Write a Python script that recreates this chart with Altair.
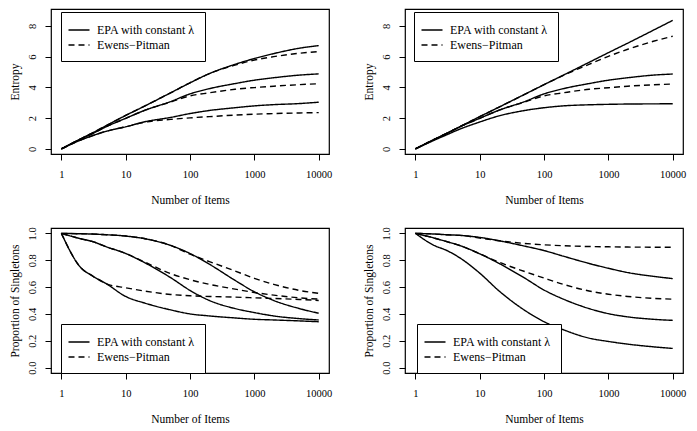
import pandas as pd
import altair as alt

# number of items (x) shared by all curves
items = [1, 2, 3, 5, 10, 20, 50, 100, 200, 500, 1000, 2000, 5000, 10000]
methods = ["EPA with constant λ", "Ewens\u2212Pitman"]

# top-left: entropy
tl_epa_hi = [0, 0.66, 1.03, 1.52, 2.18, 2.8, 3.65, 4.3, 4.9, 5.5, 5.88, 6.2, 6.55, 6.72]
tl_ep_hi = [0, 0.66, 1.03, 1.52, 2.18, 2.8, 3.65, 4.3, 4.9, 5.45, 5.78, 6.0, 6.22, 6.33]
tl_epa_mid = [0, 0.64, 0.98, 1.45, 1.99, 2.52, 3.08, 3.58, 3.92, 4.25, 4.47, 4.63, 4.8, 4.88]
tl_ep_mid = [0, 0.64, 0.98, 1.45, 1.99, 2.52, 3.05, 3.45, 3.65, 3.88, 3.99, 4.08, 4.18, 4.24]
tl_epa_lo = [0, 0.58, 0.85, 1.15, 1.44, 1.77, 2.05, 2.3, 2.5, 2.68, 2.8, 2.88, 2.95, 3.04]
tl_ep_lo = [0, 0.58, 0.85, 1.15, 1.44, 1.74, 1.92, 2.02, 2.1, 2.2, 2.26, 2.3, 2.34, 2.36]

# top-right: entropy
tr_epa_hi = [0, 0.63, 1.0, 1.46, 2.1, 2.72, 3.55, 4.18, 4.8, 5.63, 6.26, 6.88, 7.72, 8.36]
tr_ep_hi = [0, 0.63, 1.0, 1.46, 2.1, 2.72, 3.55, 4.18, 4.78, 5.5, 6.02, 6.48, 7.0, 7.33]
tr_epa_mid = [0, 0.64, 0.98, 1.45, 1.99, 2.52, 3.08, 3.58, 3.92, 4.25, 4.47, 4.63, 4.8, 4.87]
tr_ep_mid = [0, 0.64, 0.98, 1.45, 1.99, 2.52, 3.05, 3.45, 3.65, 3.88, 3.98, 4.08, 4.17, 4.22]
tr_epa_lo = [0, 0.58, 0.9, 1.3, 1.75, 2.15, 2.5, 2.68, 2.8, 2.87, 2.9, 2.92, 2.93, 2.94]

# bottom-left: proportion of singletons
bl_epa_hi = [1.0, 0.997, 0.995, 0.99, 0.98, 0.96, 0.91, 0.85, 0.77, 0.65, 0.565, 0.5, 0.44, 0.405]
bl_ep_hi = [1.0, 0.997, 0.995, 0.99, 0.98, 0.96, 0.91, 0.845, 0.79, 0.72, 0.665, 0.62, 0.575, 0.553]
bl_epa_mid = [1.0, 0.96, 0.94, 0.9, 0.85, 0.78, 0.67, 0.575, 0.5, 0.44, 0.41, 0.385, 0.365, 0.355]
bl_ep_mid = [1.0, 0.96, 0.94, 0.9, 0.85, 0.785, 0.7, 0.655, 0.62, 0.585, 0.56, 0.54, 0.52, 0.51]
bl_epa_lo = [1.0, 0.745, 0.685, 0.625, 0.53, 0.48, 0.43, 0.40, 0.385, 0.37, 0.36, 0.355, 0.348, 0.342]
bl_ep_lo = [1.0, 0.745, 0.685, 0.625, 0.595, 0.57, 0.545, 0.535, 0.53, 0.525, 0.52, 0.515, 0.508, 0.50]

# bottom-right: proportion of singletons
br_epa_hi = [1.0, 0.995, 0.99, 0.985, 0.97, 0.945, 0.905, 0.872, 0.83, 0.776, 0.74, 0.708, 0.68, 0.663]
br_ep_hi = [1.0, 0.995, 0.99, 0.985, 0.965, 0.945, 0.925, 0.915, 0.908, 0.902, 0.9, 0.898, 0.897, 0.896]
br_epa_mid = [1.0, 0.964, 0.94, 0.908, 0.848, 0.776, 0.667, 0.578, 0.51, 0.44, 0.402, 0.378, 0.36, 0.352]
br_ep_mid = [1.0, 0.964, 0.94, 0.908, 0.848, 0.785, 0.716, 0.667, 0.62, 0.571, 0.547, 0.53, 0.516, 0.51]
br_epa_lo = [1.0, 0.908, 0.875, 0.815, 0.704, 0.571, 0.427, 0.342, 0.282, 0.22, 0.195, 0.175, 0.155, 0.143]

series = {
    "tl": [(tl_epa_hi, 0), (tl_ep_hi, 1), (tl_epa_mid, 0), (tl_ep_mid, 1), (tl_epa_lo, 0), (tl_ep_lo, 1)],
    "tr": [(tr_epa_hi, 0), (tr_ep_hi, 1), (tr_epa_mid, 0), (tr_ep_mid, 1), (tr_epa_lo, 0)],
    "bl": [(bl_epa_hi, 0), (bl_ep_hi, 1), (bl_epa_mid, 0), (bl_ep_mid, 1), (bl_epa_lo, 0), (bl_ep_lo, 1)],
    "br": [(br_epa_hi, 0), (br_ep_hi, 1), (br_epa_mid, 0), (br_ep_mid, 1), (br_epa_lo, 0)],
}

rows = []
for panel, curves in series.items():
    for k, (vals, m) in enumerate(curves):
        for x, v in zip(items, vals):
            rows.append({"panel": panel, "series": f"{panel}{k}", "method": methods[m], "items": x, "value": v})
df = pd.DataFrame(rows)

W, H = 278, 145
serif = "Liberation Serif, Times New Roman, DejaVu Serif, serif"


def panel(name, ytitle, ydomain, yticks, yfmt, legend_x, legend_y):
    d = df[df["panel"] == name]
    return alt.Chart(d).mark_line(color="black", strokeWidth=1.4, interpolate="monotone").encode(
        x=alt.X("items:Q",
                scale=alt.Scale(type="log", domain=[0.69, 14450], nice=False),
                axis=alt.Axis(values=[1, 10, 100, 1000, 10000], format="d", title="Number of Items")),
        y=alt.Y("value:Q",
                scale=alt.Scale(domain=ydomain, nice=False, zero=False),
                axis=alt.Axis(values=yticks, format=yfmt, title=ytitle, labelAngle=-90)),
        strokeDash=alt.StrokeDash("method:N",
                                  scale=alt.Scale(domain=methods, range=[[1, 0], [6, 4]]),
                                  legend=alt.Legend(orient="none", legendX=legend_x, legendY=legend_y, title=None)),
        detail="series:N",
    ).properties(width=W, height=H)


top_ticks = [0, 2, 4, 6, 8]
bot_ticks = [0.0, 0.2, 0.4, 0.6, 0.8, 1.0]

p_tl = panel("tl", "Entropy", [-0.33, 9.1], top_ticks, "d", 10, 3)
p_tr = panel("tr", "Entropy", [-0.33, 9.1], top_ticks, "d", 9, 3)
p_bl = panel("bl", "Proportion of Singletons", [-0.04, 1.04], bot_ticks, ".1f", 10, 96)
p_br = panel("br", "Proportion of Singletons", [-0.04, 1.04], bot_ticks, ".1f", 12, 96)

chart = alt.concat(
    p_tl, p_tr, p_bl, p_br,
    columns=2, spacing={"row": 74, "column": 76}, bounds="flush",
).resolve_scale(
    x="independent", y="independent", strokeDash="independent"
).resolve_legend(
    strokeDash="independent"
).properties(padding=0)

chart = chart.configure_view(stroke="black", strokeWidth=1.2).configure_axis(
    domain=False, grid=False,
    tickColor="black", tickSize=6, tickWidth=1,
    labelFont=serif, labelFontSize=10.5, labelColor="black",
    titleFont=serif, titleFontSize=11.5, titleFontWeight="normal", titleColor="black",
).configure_axisX(labelPadding=9, titlePadding=15).configure_axisY(
    labelPadding=8, titlePadding=7
).configure_legend(
    strokeColor="black", fillColor="white", padding=10,
    symbolType="M-1.5,0H1.5", symbolSize=196, symbolStrokeWidth=1.4, symbolStrokeColor="black",
    labelFont=serif, labelFontSize=12, labelColor="black", labelOffset=10, labelLimit=0,
    rowPadding=1,
)

chart.save("out.html", embed_options={"renderer": "svg", "actions": False})
